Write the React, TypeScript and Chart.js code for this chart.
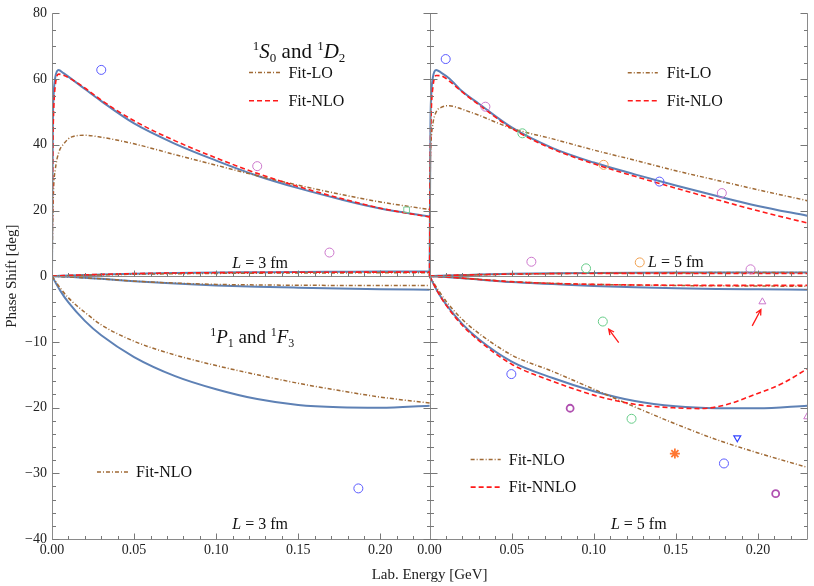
import React, { useEffect, useRef } from 'react';
import { Chart, registerables } from 'chart.js';

Chart.register(...registerables);

const FONT = '"Liberation Serif", "Times New Roman", serif';
const PANEL_SPAN = 0.23;

// ---- energies (GeV) ----
const E_S0 = [0, 0.0005, 0.001, 0.002, 0.004, 0.007, 0.012, 0.02, 0.03, 0.05, 0.075, 0.1, 0.125, 0.15, 0.175, 0.2, 0.23];
const E_GRID = [0, 0.005, 0.01, 0.02, 0.03, 0.05, 0.075, 0.1, 0.125, 0.15, 0.175, 0.2, 0.23];
const E_NNLO = [0, 0.005, 0.01, 0.02, 0.03, 0.05, 0.075, 0.1, 0.125, 0.15, 0.165, 0.18, 0.195, 0.215, 0.23];

// ---- left panel (L = 3 fm) ----
const S0_BLUE_L = [0, 45, 55, 60.5, 62.8, 61.8, 60.0, 57.0, 53.3, 46.5, 40.3, 35.2, 30.6, 26.8, 23.5, 20.6, 18.2];
const S0_RED_L = [0, 38, 50, 58, 61.5, 61.2, 59.9, 57.3, 53.6, 47.3, 41.2, 36.0, 31.3, 27.3, 23.8, 20.7, 18.0];
const S0_LO_L = [0, 18, 27, 32.5, 37.5, 40.2, 42.4, 42.9, 42.3, 40.3, 37.0, 33.8, 30.6, 27.7, 25.0, 22.6, 20.3];
const D2_BLUE_L = [0, 0.1, 0.2, 0.35, 0.5, 0.75, 0.95, 1.1, 1.2, 1.3, 1.35, 1.4, 1.4];
const D2_RED_L = [0, 0.12, 0.25, 0.4, 0.55, 0.8, 0.98, 1.08, 1.15, 1.2, 1.22, 1.24, 1.25];
const D2_LO_L = [0, 0.08, 0.15, 0.28, 0.4, 0.6, 0.75, 0.85, 0.92, 0.97, 1.0, 1.03, 1.05];
const P1_BLUE_L = [0, -2.2, -4.0, -6.8, -9.0, -12.3, -15.2, -17.2, -18.7, -19.6, -19.95, -20.02, -19.7];
const P1_NLO_L = [0, -1.8, -3.3, -5.5, -7.4, -9.9, -12.0, -13.6, -15.0, -16.3, -17.4, -18.4, -19.3];
const F3_BLUE_L = [0, -0.05, -0.1, -0.25, -0.4, -0.75, -1.1, -1.4, -1.6, -1.75, -1.88, -1.97, -2.05];
const F3_NLO_L = [0, -0.05, -0.1, -0.25, -0.4, -0.75, -1.05, -1.25, -1.33, -1.38, -1.4, -1.4, -1.4];

// ---- right panel (L = 5 fm) ----
const S0_BLUE_R = [0, 45, 55, 60.5, 62.8, 62.0, 60.2, 56.2, 52.5, 45.3, 39.0, 34.6, 31.0, 27.6, 24.4, 21.4, 18.4];
const S0_RED_R = [0, 38, 50, 57.5, 61.1, 61.0, 59.4, 56.0, 52.2, 45.0, 38.7, 34.2, 30.4, 26.8, 23.3, 19.9, 16.2];
const S0_LO_R = [0, 36, 42, 46.5, 50.0, 51.4, 51.9, 50.8, 49.0, 45.0, 41.8, 38.4, 35.3, 32.1, 29.2, 26.3, 23.0];
const D2_BLUE_R = [0, 0.1, 0.2, 0.35, 0.5, 0.72, 0.9, 1.0, 1.06, 1.1, 1.12, 1.14, 1.15];
const D2_RED_R = [0, 0.1, 0.2, 0.35, 0.48, 0.65, 0.78, 0.84, 0.86, 0.85, 0.83, 0.81, 0.8];
const D2_LO_R = [0, 0.08, 0.16, 0.3, 0.42, 0.62, 0.8, 0.92, 1.0, 1.05, 1.1, 1.13, 1.15];
const P1_BLUE_R = [0, -2.4, -4.3, -7.3, -9.6, -13.0, -15.5, -17.5, -19.0, -19.8, -20.08, -20.1, -19.7];
const P1_NLO_R = [0, -2.0, -3.8, -6.6, -8.7, -12.0, -14.5, -17.2, -19.9, -22.5, -24.9, -26.9, -29.1];
const P1_NNLO_R = [0, -2.4, -4.4, -7.5, -9.8, -13.4, -16.0, -18.1, -19.5, -20.05, -20.15, -19.6, -18.3, -16.3, -14.1];
const F3_BLUE_R = [0, -0.06, -0.12, -0.3, -0.5, -0.9, -1.2, -1.5, -1.7, -1.85, -1.95, -2.0, -2.05];
const F3_NNLO_R = [0, -0.06, -0.12, -0.3, -0.5, -0.85, -1.1, -1.25, -1.33, -1.38, -1.4, -1.4, -1.4];
const F3_NLO_R = [0, -0.06, -0.12, -0.3, -0.48, -0.82, -1.08, -1.25, -1.35, -1.42, -1.46, -1.5, -1.52];

// ---- data points ----
const PTS_BLUE_L_E = [0.03, 0.1866];
const PTS_BLUE_L_V = [62.8, -32.3];
const PTS_PINK_L_E = [0.125, 0.169];
const PTS_PINK_L_V = [33.5, 7.2];
const PTS_GREEN_L_E = [0.216];
const PTS_GREEN_L_V = [20.2];

const PTS_BLUE_R_E = [0.0098, 0.14, 0.0498, 0.1793];
const PTS_BLUE_R_V = [66.1, 28.8, -14.9, -28.5];
const PTS_PINK_R_E = [0.034, 0.178, 0.062, 0.1955];
const PTS_PINK_R_V = [51.6, 25.3, 4.4, 2.1];
const PTS_GREEN_R_E = [0.0565, 0.0953, 0.1055, 0.123];
const PTS_GREEN_R_V = [43.5, 2.4, -6.9, -21.7];
const PTS_ORANGE_R_E = [0.106, 0.128];
const PTS_ORANGE_R_V = [33.9, 4.2];
const PTS_MAGENTA_R_E = [0.0856, 0.2108];
const PTS_MAGENTA_R_V = [-20.1, -33.1];
const PTS_STAR_R_E = [0.1494];
const PTS_STAR_R_V = [-27.0];
const PTS_DTRI_R_E = [0.1874];
const PTS_DTRI_R_V = [-24.6];
const PTS_TRI_R_E = [0.2027, 0.23];
const PTS_TRI_R_V = [-3.9, -21.4];

// ---- ticks ----
const X_MAJOR = [0, 0.05, 0.1, 0.15, 0.2];
const Y_UPPER_MAJOR = [0, 20, 40, 60, 80];
const Y_LOWER_MAJOR = [-10, -20, -30, -40];

const BLUE = '#5e81b5';
const RED = '#ff1a1a';
const BROWN = '#a06a35';

// upper half (0..80) at scale 1, lower half (-40..0) stretched x2
const ty = (v: number) => (v >= 0 ? v : 2 * v);

type Style = { color: string; width: number; dash: number[]; order: number };
const S_BLUE: Style = { color: BLUE, width: 2, dash: [], order: 3 };
const S_RED: Style = { color: RED, width: 1.6, dash: [5, 3], order: 1 };
const S_BROWN: Style = { color: BROWN, width: 1.5, dash: [4, 2, 1, 2], order: 2 };

function curve(panel: number, E: number[], V: number[], s: Style) {
  return {
    data: E.map((e, i) => ({ x: e + panel * PANEL_SPAN, y: ty(V[i]) })),
    borderColor: s.color,
    borderWidth: s.width,
    borderDash: s.dash,
    pointRadius: 0,
    fill: false,
    cubicInterpolationMode: 'monotone',
    order: s.order,
    clip: 0,
  };
}

function pts(panel: number, E: number[], V: number[], color: string, style = 'circle', radius = 4.5, rotation = 0, bw = 1) {
  return {
    data: E.map((e, i) => ({ x: e + panel * PANEL_SPAN, y: ty(V[i]) })),
    showLine: false,
    pointStyle: style,
    pointRadius: radius,
    pointRotation: rotation,
    pointBorderColor: color,
    pointBackgroundColor: 'rgba(0,0,0,0)',
    pointBorderWidth: bw,
    borderColor: color,
    order: 0,
    clip: 0,
  };
}

type Seg = { t: string; it?: boolean; sz: number; dy?: number };

function drawRich(ctx: CanvasRenderingContext2D, segs: Seg[], x: number, y: number, align: 'left' | 'center') {
  const fontOf = (s: Seg) => `${s.it ? 'italic ' : ''}${s.sz}px ${FONT}`;
  let w = 0;
  for (const s of segs) {
    ctx.font = fontOf(s);
    w += ctx.measureText(s.t).width;
  }
  let cx = align === 'center' ? x - w / 2 : x;
  ctx.textAlign = 'left';
  ctx.textBaseline = 'alphabetic';
  for (const s of segs) {
    ctx.font = fontOf(s);
    ctx.fillText(s.t, cx, y + (s.dy || 0));
    cx += ctx.measureText(s.t).width;
  }
}

const framePlugin = {
  id: 'frameAndNotes',
  afterDatasetsDraw(chart: any) {
    const { ctx, chartArea: a, scales } = chart;
    const xs = scales.x;
    const ys = scales.y;
    const px = (panel: number, e: number) => xs.getPixelForValue(e + panel * PANEL_SPAN);
    const py = (v: number) => ys.getPixelForValue(ty(v));
    const snap = (p: number) => Math.round(p) + 0.5;

    ctx.save();
    ctx.setLineDash([]);
    // frame lines
    ctx.strokeStyle = '#8a8a8a';
    ctx.lineWidth = 1;
    const vlines = [0, 1, 2].map((p) => snap(px(p, 0)));
    ctx.beginPath();
    for (const vx of vlines) {
      ctx.moveTo(vx, a.top);
      ctx.lineTo(vx, a.bottom);
    }
    const yb = snap(a.bottom);
    const y0 = snap(py(0));
    ctx.moveTo(a.left, yb);
    ctx.lineTo(a.right, yb);
    ctx.moveTo(a.left, y0);
    ctx.lineTo(a.right, y0);
    ctx.stroke();

    // x ticks (inward, pointing up) on bottom and zero line
    ctx.strokeStyle = '#777';
    ctx.beginPath();
    for (const panel of [0, 1]) {
      for (let k = 1; k < 23; k++) {
        const e = k / 100;
        const major = k % 5 === 0;
        const len = major ? 6 : 3.5;
        const xx = snap(px(panel, e));
        for (const yy of [yb, y0]) {
          ctx.moveTo(xx, yy);
          ctx.lineTo(xx, yy - len);
        }
      }
    }
    // y ticks
    const yTickVals: { v: number; major: boolean }[] = [];
    for (let v = 5; v <= 80; v += 5) yTickVals.push({ v, major: v % 20 === 0 });
    for (let v = -2; v >= -40; v -= 2) yTickVals.push({ v, major: v % 10 === 0 });
    for (const t of yTickVals) {
      const yy = snap(py(t.v));
      const len = t.major ? 7 : 3.5;
      ctx.moveTo(vlines[0], yy);
      ctx.lineTo(vlines[0] + len, yy);
      ctx.moveTo(vlines[1] - len, yy);
      ctx.lineTo(vlines[1] + len, yy);
      ctx.moveTo(vlines[2], yy);
      ctx.lineTo(vlines[2] - len, yy);
    }
    ctx.stroke();

    // annotations
    ctx.fillStyle = '#111';
    drawRich(ctx, [
      { t: '1', sz: 13, dy: -8 }, { t: 'S', it: true, sz: 21 }, { t: '0', sz: 13, dy: 4 },
      { t: ' and ', sz: 21 },
      { t: '1', sz: 13, dy: -8 }, { t: 'D', it: true, sz: 21 }, { t: '2', sz: 13, dy: 4 },
    ], px(0, 0.1505), py(66.4), 'center');
    drawRich(ctx, [
      { t: '1', sz: 12, dy: -7 }, { t: 'P', it: true, sz: 19 }, { t: '1', sz: 12, dy: 4 },
      { t: ' and ', sz: 19 },
      { t: '1', sz: 12, dy: -7 }, { t: 'F', it: true, sz: 19 }, { t: '3', sz: 12, dy: 4 },
    ], px(0, 0.122), py(-10.1), 'center');

    const lbl = (n: string) => [{ t: 'L', it: true, sz: 16 }, { t: ` = ${n} fm`, sz: 16 }];
    drawRich(ctx, lbl('3'), px(0, 0.1268), py(2.4), 'center');
    drawRich(ctx, lbl('3'), px(0, 0.1268), py(-38.5), 'center');
    drawRich(ctx, lbl('5'), px(1, 0.15), py(2.7), 'center');
    drawRich(ctx, lbl('5'), px(1, 0.1274), py(-38.5), 'center');

    const legendItem = (panel: number, e0: number, e1: number, et: number, v: number, s: Style, text: string) => {
      const yy = py(v);
      ctx.strokeStyle = s.color;
      ctx.lineWidth = s.width;
      ctx.setLineDash(s.dash);
      ctx.beginPath();
      ctx.moveTo(px(panel, e0), yy);
      ctx.lineTo(px(panel, e1), yy);
      ctx.stroke();
      ctx.setLineDash([]);
      ctx.fillStyle = '#111';
      ctx.font = `16px ${FONT}`;
      ctx.textAlign = 'left';
      ctx.textBaseline = 'middle';
      ctx.fillText(text, px(panel, et), yy + 1);
    };
    legendItem(0, 0.12, 0.139, 0.144, 62.0, S_BROWN, 'Fit-LO');
    legendItem(0, 0.12, 0.139, 0.144, 53.4, S_RED, 'Fit-NLO');
    legendItem(1, 0.1207, 0.139, 0.1445, 61.9, S_BROWN, 'Fit-LO');
    legendItem(1, 0.1207, 0.139, 0.1445, 53.4, S_RED, 'Fit-NLO');
    legendItem(0, 0.0274, 0.0463, 0.0512, -29.8, S_BROWN, 'Fit-NLO');
    legendItem(1, 0.025, 0.0433, 0.0482, -27.9, S_BROWN, 'Fit-NLO');
    legendItem(1, 0.025, 0.0433, 0.0482, -32.1, S_RED, 'Fit-NNLO');

    // red arrows
    const arrow = (e0: number, v0: number, e1: number, v1: number) => {
      const x0 = px(1, e0), y0a = py(v0), x1 = px(1, e1), y1 = py(v1);
      const ang = Math.atan2(y1 - y0a, x1 - x0);
      ctx.strokeStyle = RED;
      ctx.lineWidth = 1.3;
      ctx.beginPath();
      ctx.moveTo(x0, y0a);
      ctx.lineTo(x1, y1);
      ctx.moveTo(x1 - 6 * Math.cos(ang - 0.45), y1 - 6 * Math.sin(ang - 0.45));
      ctx.lineTo(x1, y1);
      ctx.lineTo(x1 - 6 * Math.cos(ang + 0.45), y1 - 6 * Math.sin(ang + 0.45));
      ctx.stroke();
    };
    arrow(0.1152, -10.1, 0.1091, -8.07);
    arrow(0.1965, -7.56, 0.2018, -5.07);

    ctx.restore();
  },
};

export default function App() {
  const ref = useRef<HTMLCanvasElement | null>(null);

  useEffect(() => {
    if (!ref.current) return;
    const datasets: any[] = [
      curve(0, E_S0, S0_BLUE_L, S_BLUE),
      curve(0, E_S0, S0_LO_L, S_BROWN),
      curve(0, E_S0, S0_RED_L, S_RED),
      curve(0, E_GRID, D2_BLUE_L, S_BLUE),
      curve(0, E_GRID, D2_LO_L, S_BROWN),
      curve(0, E_GRID, D2_RED_L, S_RED),
      curve(0, E_GRID, P1_BLUE_L, S_BLUE),
      curve(0, E_GRID, P1_NLO_L, S_BROWN),
      curve(0, E_GRID, F3_BLUE_L, S_BLUE),
      curve(0, E_GRID, F3_NLO_L, S_BROWN),
      curve(1, E_S0, S0_BLUE_R, S_BLUE),
      curve(1, E_S0, S0_LO_R, S_BROWN),
      curve(1, E_S0, S0_RED_R, S_RED),
      curve(1, E_GRID, D2_BLUE_R, S_BLUE),
      curve(1, E_GRID, D2_LO_R, S_BROWN),
      curve(1, E_GRID, D2_RED_R, S_RED),
      curve(1, E_GRID, P1_BLUE_R, S_BLUE),
      curve(1, E_GRID, P1_NLO_R, S_BROWN),
      curve(1, E_NNLO, P1_NNLO_R, S_RED),
      curve(1, E_GRID, F3_BLUE_R, S_BLUE),
      curve(1, E_GRID, F3_NLO_R, S_BROWN),
      curve(1, E_GRID, F3_NNLO_R, S_RED),
      pts(0, PTS_BLUE_L_E, PTS_BLUE_L_V, '#5a5aff'),
      pts(0, PTS_PINK_L_E, PTS_PINK_L_V, '#cc77cc'),
      pts(0, PTS_GREEN_L_E, PTS_GREEN_L_V, '#77cc99', 'rect', 4),
      pts(1, PTS_BLUE_R_E, PTS_BLUE_R_V, '#5a5aff'),
      pts(1, PTS_PINK_R_E, PTS_PINK_R_V, '#cc77cc'),
      pts(1, PTS_GREEN_R_E, PTS_GREEN_R_V, '#66cc88'),
      pts(1, PTS_ORANGE_R_E, PTS_ORANGE_R_V, '#f0a050'),
      pts(1, PTS_MAGENTA_R_E, PTS_MAGENTA_R_V, '#b050b0', 'circle', 3.5, 0, 1.8),
      pts(1, PTS_STAR_R_E, PTS_STAR_R_V, '#ff7733', 'star', 5, 0, 1.8),
      pts(1, PTS_DTRI_R_E, PTS_DTRI_R_V, '#3344ff', 'triangle', 4, 180, 1.2),
      pts(1, PTS_TRI_R_E, PTS_TRI_R_V, '#cc77cc', 'triangle', 4, 0, 1),
    ];

    const xTickValues = [...X_MAJOR, ...X_MAJOR.map((v) => v + PANEL_SPAN)].sort((p, q) => p - q);
    const yTickValues = [...Y_LOWER_MAJOR.map(ty), ...Y_UPPER_MAJOR].sort((p, q) => p - q);

    const chart = new Chart(ref.current, {
      type: 'line',
      data: { datasets },
      plugins: [framePlugin],
      options: {
        responsive: false,
        animation: false,
        devicePixelRatio: 1,
        layout: { padding: { top: 8, right: 5, left: 0, bottom: 0 } },
        plugins: { legend: { display: false }, tooltip: { enabled: false } },
        elements: { line: { tension: 0 } },
        scales: {
          x: {
            type: 'linear',
            min: 0,
            max: 2 * PANEL_SPAN,
            grid: { display: false, drawTicks: false },
            border: { display: false },
            afterBuildTicks: (s: any) => {
              s.ticks = xTickValues.map((value) => ({ value }));
            },
            afterFit: (s: any) => {
              s.height = 47;
            },
            ticks: {
              autoSkip: false,
              maxRotation: 0,
              padding: 3,
              color: '#222',
              font: { family: FONT, size: 14 },
              callback: (v: any) => {
                const n = Number(v);
                const e = n >= PANEL_SPAN - 1e-9 ? n - PANEL_SPAN : n;
                return Math.abs(e).toFixed(2);
              },
            },
            title: {
              display: true,
              text: 'Lab. Energy [GeV]',
              color: '#222',
              font: { family: FONT, size: 15 },
              padding: { top: 0, bottom: 2 },
            },
          },
          y: {
            type: 'linear',
            min: -80,
            max: 80,
            grid: { display: false, drawTicks: false },
            border: { display: false },
            afterBuildTicks: (s: any) => {
              s.ticks = yTickValues.map((value) => ({ value }));
            },
            afterFit: (s: any) => {
              s.width = 52;
            },
            ticks: {
              padding: 5,
              color: '#222',
              font: { family: FONT, size: 14 },
              callback: (v: any) => {
                const n = Number(v);
                const real = n < 0 ? n / 2 : n;
                return real < 0 ? '\u2212' + String(Math.abs(real)) : String(real);
              },
            },
            title: {
              display: true,
              text: 'Phase Shift [deg]',
              color: '#222',
              font: { family: FONT, size: 15 },
              padding: { top: 3, bottom: 0 },
            },
          },
        },
      } as any,
    });
    return () => chart.destroy();
  }, []);

  return (
    <div style={{ position: 'absolute', left: 0, top: 0, width: 814, height: 586, background: '#fff' }}>
      <canvas ref={ref} width={814} height={586} style={{ display: 'block' }} />
    </div>
  );
}
